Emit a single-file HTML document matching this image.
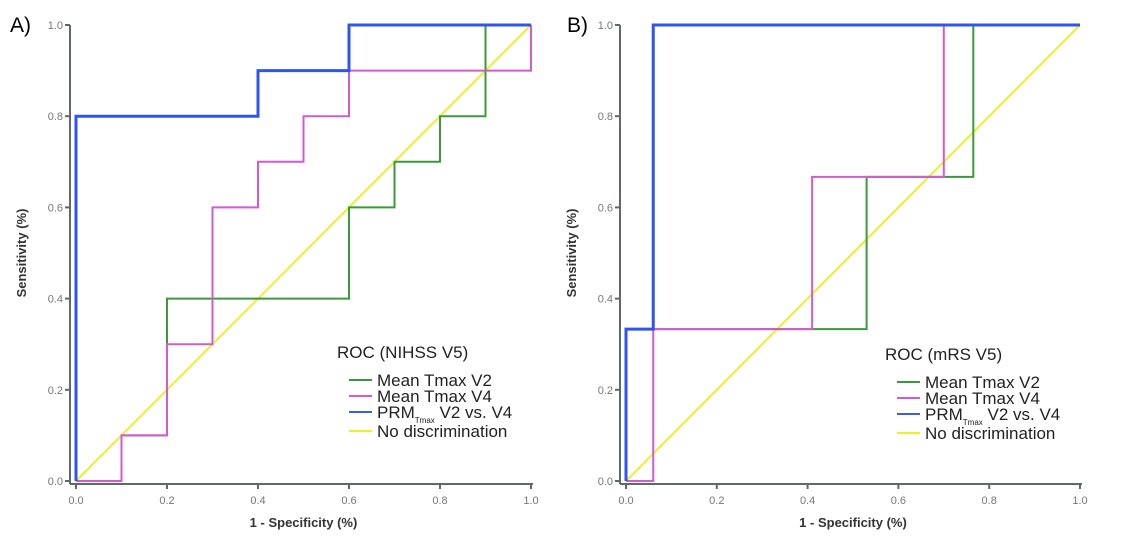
<!DOCTYPE html>
<html><head><meta charset="utf-8"><style>
body{margin:0;background:#fff}
svg{display:block;font-family:"Liberation Sans",sans-serif}
</style></head><body>
<svg id="c" width="1133" height="544"></svg>
<script>
const ticks=[0,0.2,0.4,0.6,0.8,1.0];
const tickLabels=["0.0","0.2","0.4","0.6","0.8","1.0"];
const seriesNames=["Mean Tmax V2","Mean Tmax V4","PRM V2 vs. V4","No discrimination"];
const aGreenX=[0,0.1,0.1,0.2,0.2,0.6,0.6,0.7,0.7,0.8,0.8,0.9,0.9,1];
const aGreenY=[0,0,0.1,0.1,0.4,0.4,0.6,0.6,0.7,0.7,0.8,0.8,1,1];
const aMagX=[0,0.1,0.1,0.2,0.2,0.3,0.3,0.4,0.4,0.5,0.5,0.6,0.6,1,1];
const aMagY=[0,0,0.1,0.1,0.3,0.3,0.6,0.6,0.7,0.7,0.8,0.8,0.9,0.9,1];
const aBlueX=[0,0,0.4,0.4,0.6,0.6,1];
const aBlueY=[0,0.8,0.8,0.9,0.9,1,1];
const bGreenX=[0.06,0.53,0.53,0.765,0.765,1];
const bGreenY=[0.333,0.333,0.667,0.667,1,1];
const bMagX=[0,0.06,0.06,0.41,0.41,0.70,0.70,1];
const bMagY=[0,0,0.333,0.333,0.667,0.667,1,1];
const bBlueX=[0,0,0.06,0.06,1];
const bBlueY=[0,0.333,0.333,1,1];
const diagX=[0,1], diagY=[0,1];
const NS="http://www.w3.org/2000/svg";
const svg=document.getElementById('c');
function el(t,a,p){const e=document.createElementNS(NS,t);for(const k in a)e.setAttribute(k,a[k]);(p||svg).appendChild(e);return e;}
function panel(x0,x1,label,labelX,title,series,lx,ly){
  const y0=481,y1=25;
  const g=el('g',{});
  
  
  const sx=v=>x0+v*(x1-x0), sy=v=>y0-v*(y0-y1);
  const pl=el('text',{x:labelX,y:32,'font-size':21,fill:'#000'},g);pl.textContent=label;
  
  const ya=el('line',{x1:x0-6,y1:y1,x2:x0-6,y2:y0+3,stroke:'#5f6a68','stroke-width':2},g);
  
  const xa=el('line',{x1:x0-6,y1:y0+3,x2:x1+2,y2:y0+3,stroke:'#5f6a68','stroke-width':2},g);
  
  ticks.forEach((t,i)=>{
    el('line',{x1:x0-11,y1:sy(t),x2:x0-6,y2:sy(t),stroke:'#5f6a68','stroke-width':2},g);
    el('line',{x1:sx(t),y1:y0+3,x2:sx(t),y2:y0+8,stroke:'#5f6a68','stroke-width':2},g);
    const ty=el('text',{x:x0-13,y:sy(t)+4,'font-size':11,fill:'#777','text-anchor':'end'},g);ty.textContent=tickLabels[i];
    
    const tx=el('text',{x:sx(t),y:y0+23,'font-size':11,fill:'#777','text-anchor':'middle'},g);tx.textContent=tickLabels[i];
    
  });
  const xt=el('text',{x:(x0+x1)/2,y:527,'font-size':13,'font-weight':'bold',fill:'#333','text-anchor':'middle'},g);xt.textContent='1 - Specificity (%)';
  
  const yt=el('text',{x:0,y:0,'font-size':13,'font-weight':'bold',fill:'#333','text-anchor':'middle',transform:`translate(${x0-50},${(y0+y1)/2}) rotate(-90)`},g);yt.textContent='Sensitivity (%)';
  
  series.forEach(s=>{
    const p=el('polyline',{points:s.x.map((v,i)=>sx(v)+','+sy(s.y[i])).join(' '),fill:'none',stroke:s.c,'stroke-width':s.w},g);
    
  });
  const lt=el('text',{x:lx,y:ly,'font-size':17,fill:'#222'},g);lt.textContent=title;
  
  const cols=['#3a9a3a','#d25ad2','#3b5cf0','#f0f020'];
  seriesNames.forEach((n,i)=>{
    const yy=ly+28+i*16+(i==3?3:0);
    el('line',{x1:lx+12,y1:yy-6,x2:lx+35,y2:yy-6,stroke:cols[i],'stroke-width':2},g);
    const t=el('text',{x:lx+40,y:yy,'font-size':17,fill:'#222'},g);
    
    if(i==2){t.innerHTML='PRM<tspan font-size="8" dy="5">Tmax</tspan><tspan dy="-5"> V2 vs. V4</tspan>';}
    else t.textContent=n;
  });
}
panel(76,531,'A)',10,'ROC (NIHSS V5)',[
 {x:diagX,y:diagY,c:'#eeee30',w:2,n:'no-discrimination-line'},
 {x:aGreenX,y:aGreenY,c:'#3a9a3a',w:2,n:'mean-tmax-v2-line'},
 {x:aMagX,y:aMagY,c:'#d25ad2',w:2,n:'mean-tmax-v4-line'},
 {x:aBlueX,y:aBlueY,c:'#2f55f0',w:3,n:'prm-line'}],337,358);
panel(626,1080,'B)',567,'ROC (mRS V5)',[
 {x:diagX,y:diagY,c:'#eeee30',w:2,n:'no-discrimination-line'},
 {x:bGreenX,y:bGreenY,c:'#3a9a3a',w:2,n:'mean-tmax-v2-line'},
 {x:bMagX,y:bMagY,c:'#d25ad2',w:2,n:'mean-tmax-v4-line'},
 {x:bBlueX,y:bBlueY,c:'#2f55f0',w:3,n:'prm-line'}],885,360);
</script>
</body></html>
